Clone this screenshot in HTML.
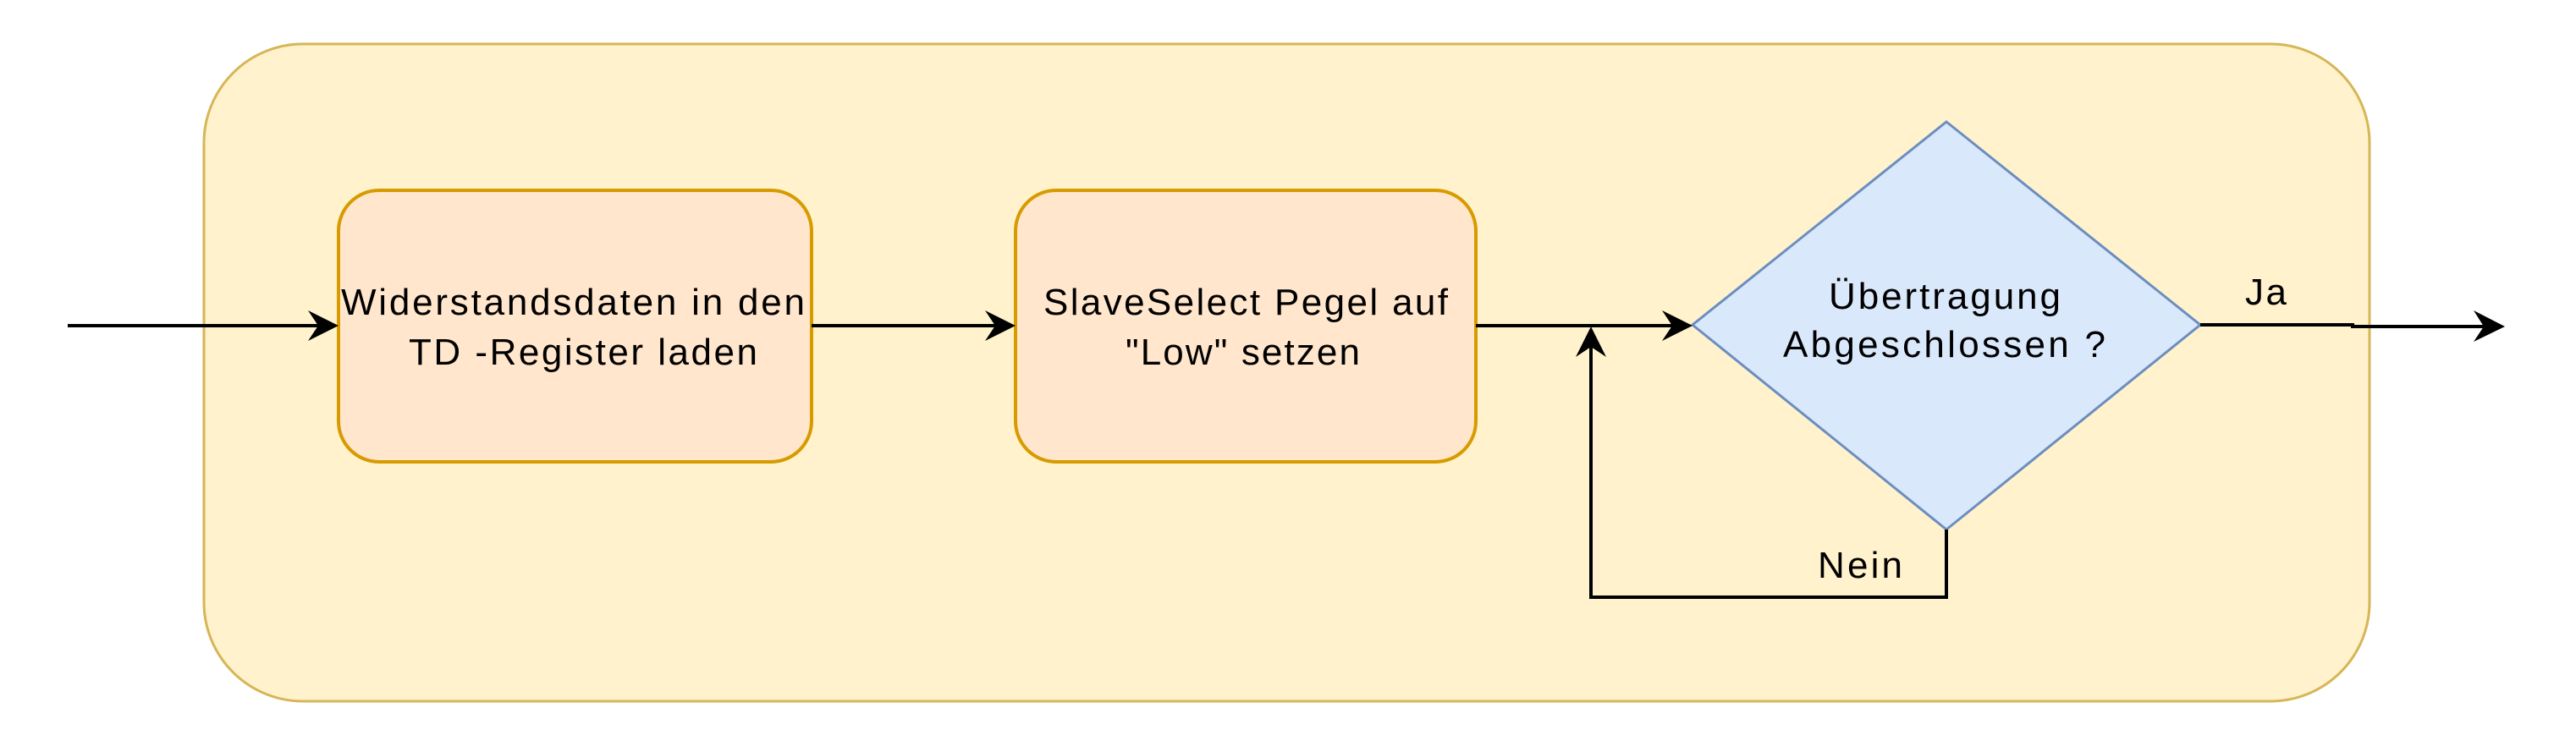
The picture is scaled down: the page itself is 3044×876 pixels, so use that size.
<!DOCTYPE html>
<html><head><meta charset="utf-8"><style>html,body{margin:0;padding:0;background:#fff}svg{display:block}</style></head>
<body>
<svg width="3044" height="876" viewBox="0 0 3044 876" xmlns="http://www.w3.org/2000/svg" font-family="'Liberation Sans', Arial, sans-serif" font-size="44" fill="#000">
<rect x="241" y="52" width="2559" height="777" rx="117" ry="117" fill="#fff2cc" stroke="#d6b656" stroke-width="3"/>
<rect x="400" y="225" width="559" height="321" rx="48" ry="48" fill="#ffe6cc" stroke="#d79b00" stroke-width="4"/>
<rect x="1200" y="225" width="544" height="321" rx="48" ry="48" fill="#ffe6cc" stroke="#d79b00" stroke-width="4"/>
<polygon points="2300,144 2600,384 2300,626 2000,384" fill="#dae8fc" stroke="#6c8ebf" stroke-width="3"/>
<g stroke="#000" stroke-width="4" fill="none">
<line x1="80" y1="385" x2="380" y2="385"/>
<line x1="959" y1="385" x2="1180" y2="385"/>
<line x1="1744" y1="385" x2="1980" y2="385"/>
<polyline points="2300,626 2300,706 1880,706 1880,405"/>
<polyline points="2600,384 2780,384 2780,386 2940,386"/>
</g>
<g fill="#000">
<polygon points="400,385 364,367 376,385 364,403"/>
<polygon points="1200,385 1164,367 1176,385 1164,403"/>
<polygon points="2000,385 1964,367 1976,385 1964,403"/>
<polygon points="1880,386 1862,422 1880,410 1898,422"/>
<polygon points="2960,386 2923,367 2935,386 2923,404"/>
</g>
<text x="403" y="372" textLength="548" lengthAdjust="spacing">Widerstandsdaten in den</text>
<text x="483" y="431" textLength="412" lengthAdjust="spacing">TD -Register laden</text>
<text x="1233" y="372" textLength="478" lengthAdjust="spacing">SlaveSelect Pegel auf</text>
<text x="1330" y="431" textLength="277" lengthAdjust="spacing">"Low" setzen</text>
<text x="2161" y="365" textLength="274" lengthAdjust="spacing">Übertragung</text>
<text x="2107" y="422" textLength="381" lengthAdjust="spacing">Abgeschlossen ?</text>
<text x="2653" y="360" textLength="49" lengthAdjust="spacing">Ja</text>
<text x="2148" y="683" textLength="100" lengthAdjust="spacing">Nein</text>
</svg>
</body></html>
